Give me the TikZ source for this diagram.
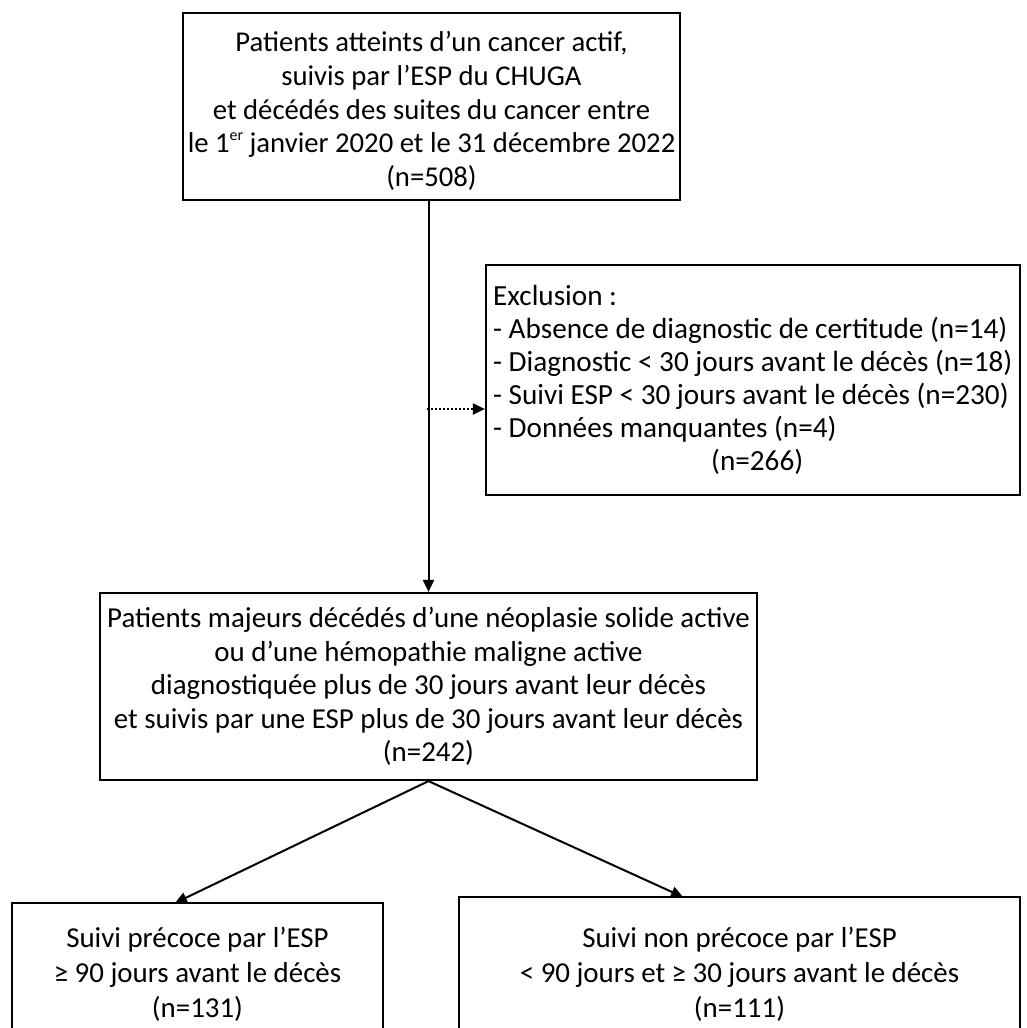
\documentclass[tikz,border=0pt]{standalone}
\usepackage{fontspec}
\setmainfont{Carlito}
\usetikzlibrary{arrows.meta}
\newcommand{\supsmall}[1]{\raisebox{0.42em}{\fontsize{16}{16}\selectfont #1}}
\begin{document}
\begin{tikzpicture}[x=1bp,y=-1bp,
  box/.style={draw,line width=2.2bp,inner sep=0pt},
  txt/.style={align=center,inner sep=0pt,font=\fontsize{29}{33.5}\selectfont},
  arr/.style={line width=2bp,-{Triangle[length=12bp,width=11bp]}},
  darr/.style={line width=2bp,dotted,-{Triangle[length=12bp,width=11bp]}}]
\clip (0,0) rectangle (1027,1028);
\fill[white] (0,0) rectangle (1027,1028);
% top box
\node[box,minimum width=497bp,minimum height=187bp] (top) at (431.5,106.5) {};
\node[txt,font=\fontsize{28.8}{33.8}\selectfont] (toptext) at (431.5,111)
 {Patients atteints d’un cancer actif,\\ suivis par l’ESP du CHUGA\\ et décédés des suites du cancer entre\\ le 1\supsmall{er} janvier 2020 et le 31 décembre 2022\\ (n=508)};
% exclusion box
\node[box,minimum width=534bp,minimum height=230bp] (excl) at (753,380) {};
\node[txt,font=\fontsize{29.3}{33.2}\selectfont,align=left,anchor=west] (excltext) at (493,380)
 {Exclusion :\\
 - Absence de diagnostic de certitude (n=14)\\
 - Diagnostic < 30 jours avant le décès (n=18)\\
 - Suivi ESP < 30 jours avant le décès (n=230)\\
 - Données manquantes (n=4)\\
 \hspace*{218bp}(n=266)};
% second box
\node[box,txt,minimum width=657bp,minimum height=187bp] (b2) at (428.5,686.5)
 {Patients majeurs décédés d’une néoplasie solide active\\ ou d’une hémopathie maligne active\\ diagnostiquée plus de 30 jours avant leur décès\\ et suivis par une ESP plus de 30 jours avant leur décès\\ (n=242)};
% bottom boxes
\node[box,txt,font=\fontsize{29}{35}\selectfont,minimum width=371bp,minimum height=142bp] (bl) at (197.5,974)
 {Suivi précoce par l’ESP\\ ≥ 90 jours avant le décès\\ (n=131)};
\node[box,txt,font=\fontsize{29}{35}\selectfont,minimum width=561bp,minimum height=154bp] (br) at (739.5,974)
 {Suivi non précoce par l’ESP\\ < 90 jours et ≥ 30 jours avant le décès\\ (n=111)};
\coordinate (d) at (427,409);
\coordinate (blin) at (175,903);
\coordinate (brin) at (683,897);
\draw[arr] (top.south -| b2.north) -- (b2.north);
\draw[darr] (d) -- (d -| excl.west);
\draw[arr] (b2.south) -- (blin);
\draw[arr] (b2.south) -- (brin);
\end{tikzpicture}
\end{document}
